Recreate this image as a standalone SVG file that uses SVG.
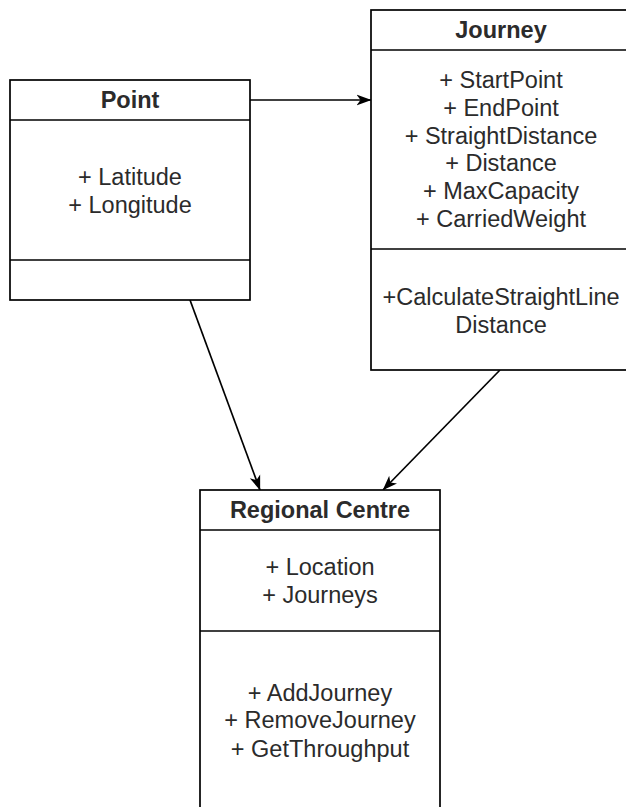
<svg xmlns="http://www.w3.org/2000/svg" width="626" height="807" viewBox="0 0 626 807">
<style>
.box{fill:#ffffff;stroke:#000000;stroke-width:1.7}
.sep{stroke:#000000;stroke-width:1.7;fill:none}
.t{font-family:"Liberation Sans",Arial,sans-serif;font-size:23.5px;fill:#2b2b2b;text-anchor:middle}
.b{font-weight:bold}
.edge{stroke:#000000;stroke-width:1.7;fill:none;marker-end:url(#arr)}
</style>
<defs>
<marker id="arr" markerUnits="userSpaceOnUse" viewBox="0 0 15 12" markerWidth="15" markerHeight="12" refX="14.5" refY="6" orient="auto">
<path d="M0,0.5 L15,6 L0,11.5 L4,6 Z" fill="#000000"/>
</marker>
</defs>
<rect width="626" height="807" fill="#ffffff"/>
<g id="edges">
<line class="edge" x1="250" y1="100" x2="371" y2="100"/>
<line class="edge" x1="190" y1="300" x2="260" y2="490"/>
<line class="edge" x1="500" y1="370" x2="383" y2="490"/>
</g>
<g id="point">
<rect class="box" x="10" y="80" width="240" height="220"/>
<line class="sep" x1="10" y1="120" x2="250" y2="120"/>
<line class="sep" x1="10" y1="260" x2="250" y2="260"/>
<text class="t b" x="130" y="108">Point</text>
<text class="t" x="130" y="185">+ Latitude</text>
<text class="t" x="130" y="212.7">+ Longitude</text>
</g>
<g id="journey">
<rect class="box" x="371" y="10" width="260" height="360"/>
<line class="sep" x1="371" y1="50" x2="631" y2="50"/>
<line class="sep" x1="371" y1="249" x2="631" y2="249"/>
<text class="t b" x="501" y="37.5">Journey</text>
<text class="t" x="501" y="88.3">+ StartPoint</text>
<text class="t" x="501" y="115.9">+ EndPoint</text>
<text class="t" x="501" y="143.5">+ StraightDistance</text>
<text class="t" x="501" y="171.1">+ Distance</text>
<text class="t" x="501" y="198.7">+ MaxCapacity</text>
<text class="t" x="501" y="226.5">+ CarriedWeight</text>
<text class="t" x="501" y="305">+CalculateStraightLine</text>
<text class="t" x="501" y="332.7">Distance</text>
</g>
<g id="regional-centre">
<rect class="box" x="200" y="490" width="240" height="340"/>
<line class="sep" x1="200" y1="530" x2="440" y2="530"/>
<line class="sep" x1="200" y1="631" x2="440" y2="631"/>
<text class="t b" x="320" y="518.3">Regional Centre</text>
<text class="t" x="320" y="575">+ Location</text>
<text class="t" x="320" y="602.7">+ Journeys</text>
<text class="t" x="320" y="700.7">+ AddJourney</text>
<text class="t" x="320" y="728.3">+ RemoveJourney</text>
<text class="t" x="320" y="756.5">+ GetThroughput</text>
</g>
</svg>
